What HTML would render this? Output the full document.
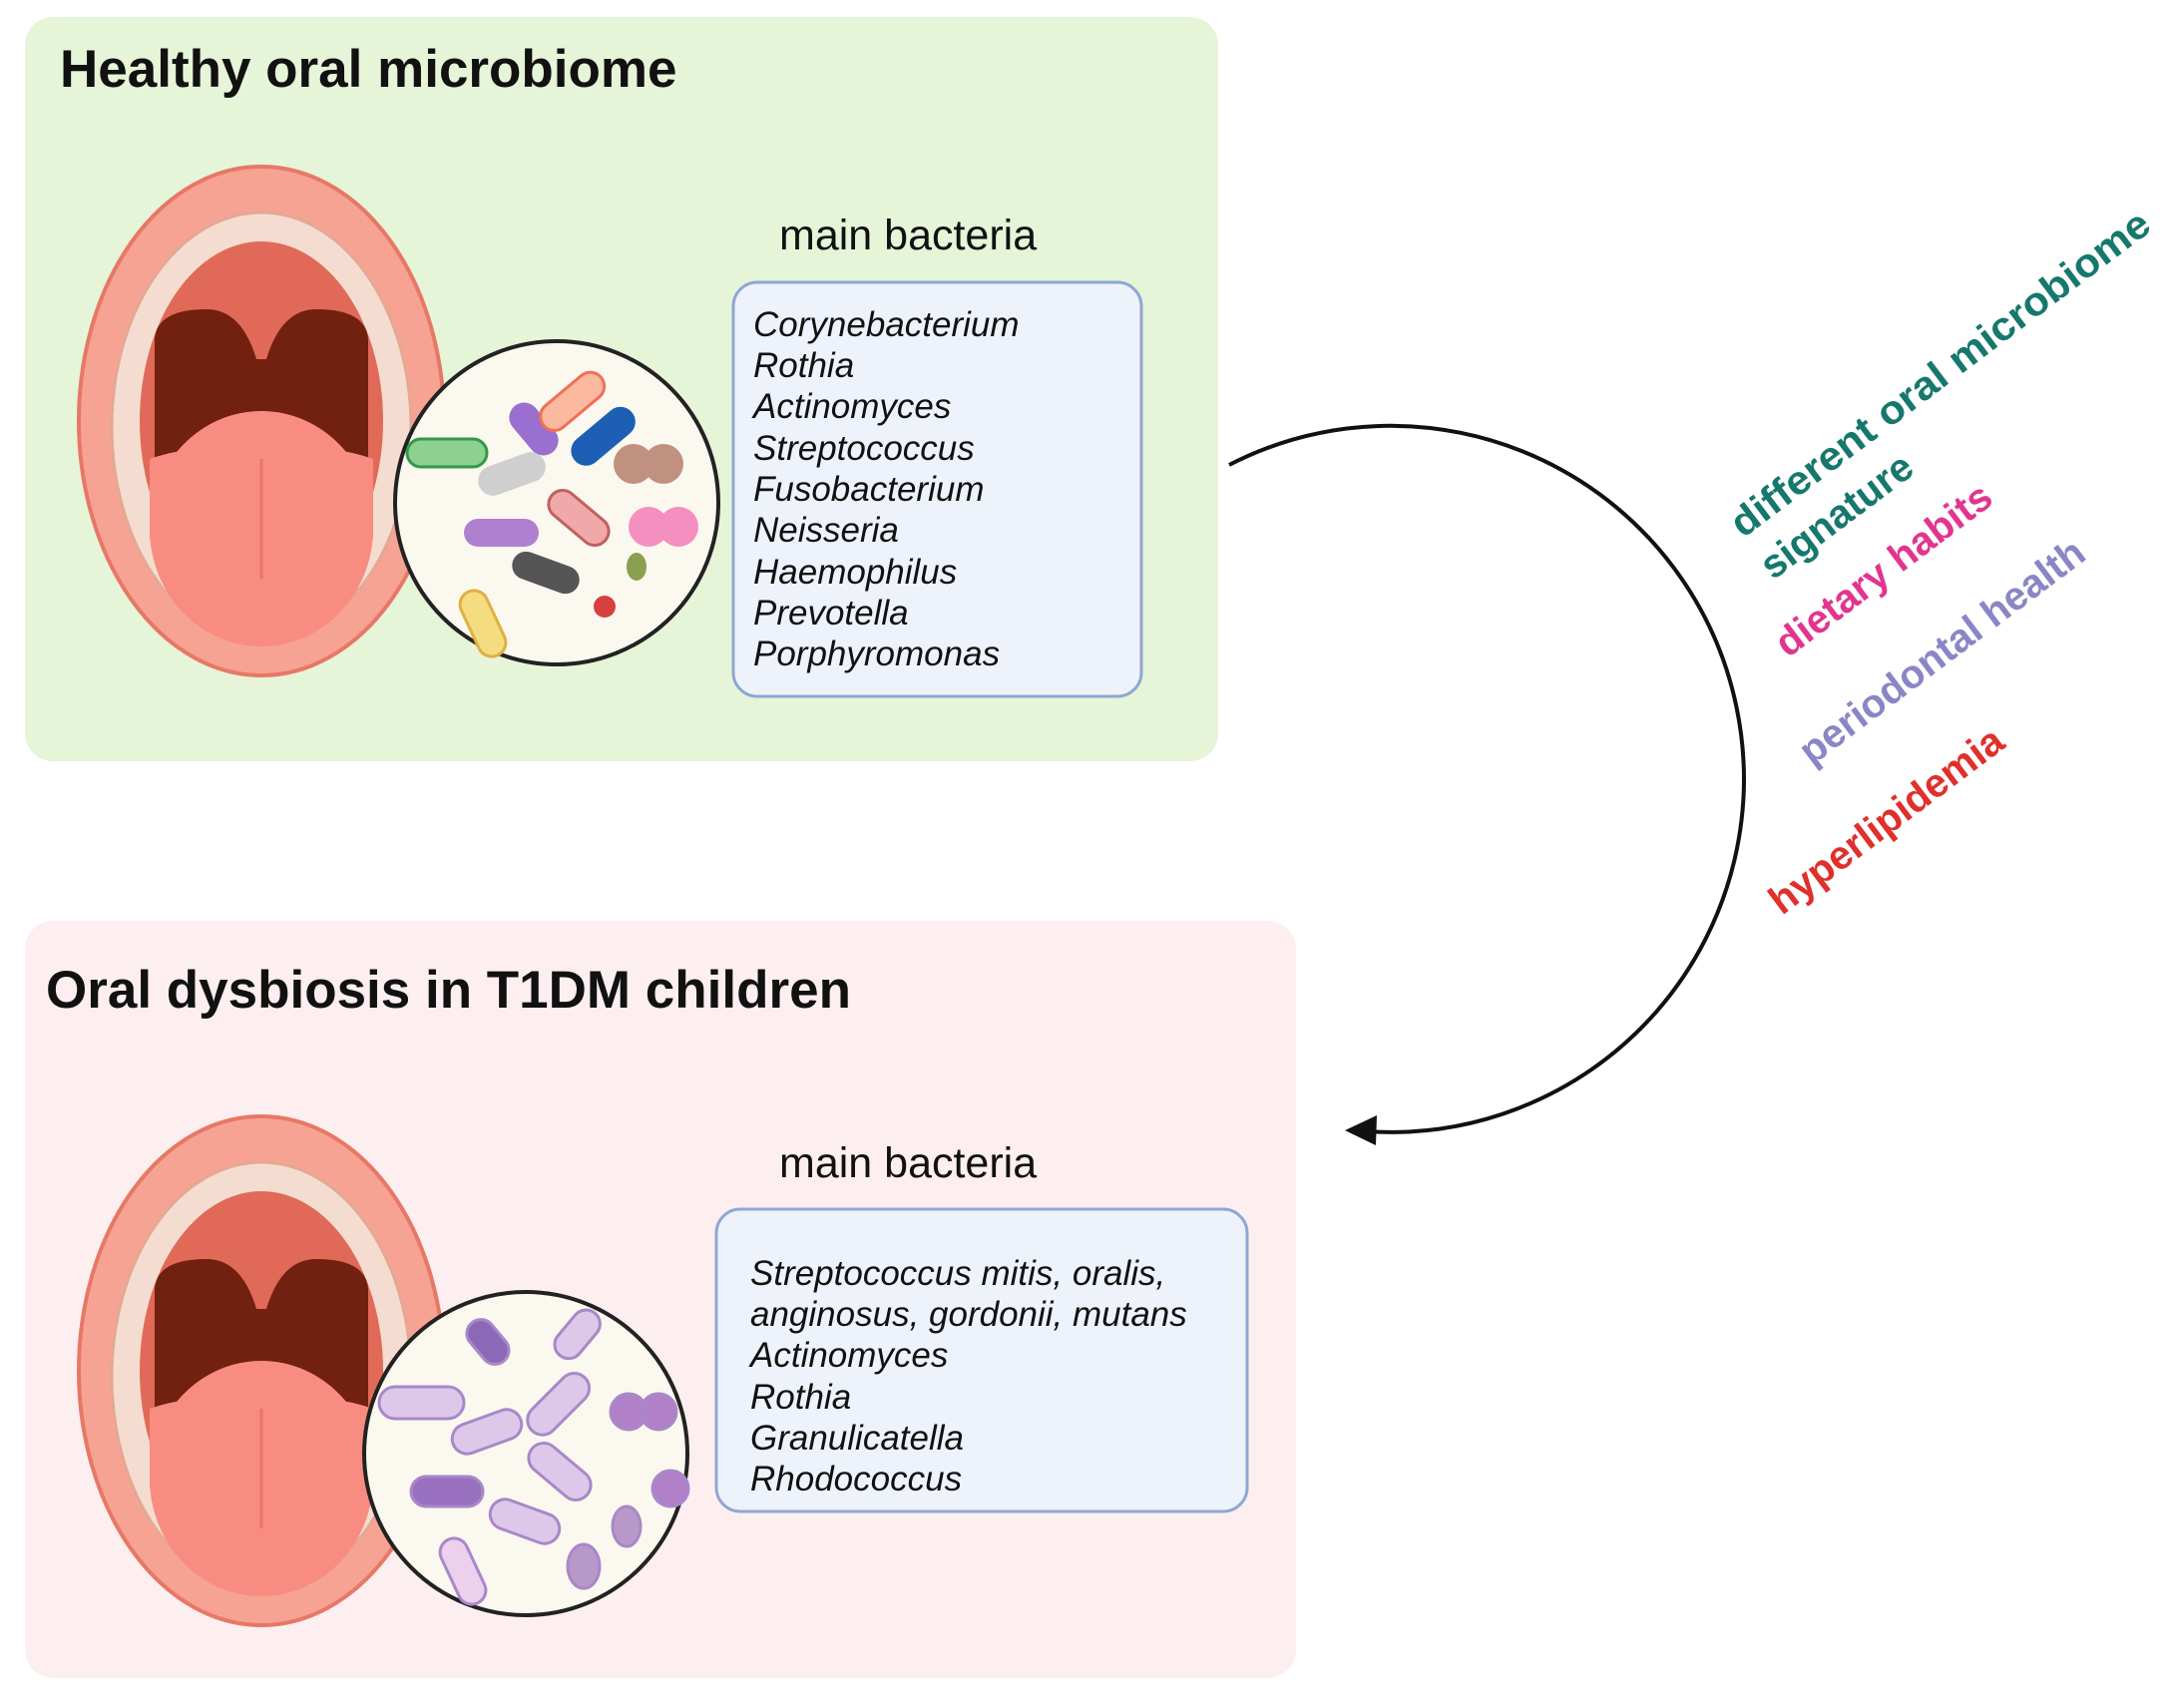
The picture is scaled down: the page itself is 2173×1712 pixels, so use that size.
<!DOCTYPE html>
<html><head><meta charset="utf-8"><style>
html,body{margin:0;padding:0;background:#fff;}
svg{display:block;}
</style></head><body>
<svg width="2173" height="1712" viewBox="0 0 2173 1712" xmlns="http://www.w3.org/2000/svg">
<defs>
<g id="mouth">
  <ellipse cx="185" cy="262" rx="183" ry="255" fill="#f7a394" stroke="#e77866" stroke-width="4"/>
  <ellipse cx="185" cy="268" rx="150" ry="215" fill="#f4ddd0" stroke="#e4a894" stroke-width="3"/>
  <ellipse cx="185" cy="262" rx="122" ry="180" fill="#e06a57"/>
  <path d="M78 180 Q80 150 130 150 Q165 150 180 200 L190 200 Q205 150 240 150 Q290 150 292 180 L292 300 L78 300 Z" fill="#72200f"/>
  <ellipse cx="185" cy="370" rx="112" ry="118" fill="#f98c80"/>
  <path d="M73 300 Q130 280 185 300 Q240 280 297 300 L297 380 L73 380 Z" fill="#f98c80"/>
  <line x1="185" y1="300" x2="185" y2="420" stroke="#e6746a" stroke-width="3"/>
</g>
</defs>

<rect x="25" y="17" width="1196" height="746" rx="28" fill="#e6f4d8"/>
<rect x="25" y="923" width="1274" height="759" rx="28" fill="#fdeff0"/>

<text x="60" y="87" font-family="Liberation Sans, sans-serif" font-weight="bold" font-size="53" fill="#111">Healthy oral microbiome</text>
<text x="46" y="1010" font-family="Liberation Sans, sans-serif" font-weight="bold" font-size="53" fill="#111">Oral dysbiosis in T1DM children</text>

<use href="#mouth" x="77" y="160"/>
<use href="#mouth" x="77" y="1112"/>

<circle cx="558" cy="504" r="162" fill="#fbf9ef" stroke="#222" stroke-width="4"/>
<g stroke-width="3">
  <rect x="520" y="400" width="30" height="60" rx="15" fill="#9b6fcf" transform="rotate(-40 535 430)"/>
  <rect x="560" y="365" width="28" height="75" rx="14" fill="#fbb9a0" stroke="#f07055" transform="rotate(50 574 402)"/>
  <rect x="590" y="400" width="30" height="75" rx="15" fill="#1d5fb5" transform="rotate(50 605 437)"/>
  <circle cx="635" cy="465" r="20" fill="#c09080"/><circle cx="665" cy="465" r="20" fill="#c09080"/>
  <rect x="408" y="440" width="80" height="28" rx="14" fill="#8ed08f" stroke="#2f9a4a"/>
  <rect x="478" y="460" width="70" height="30" rx="15" fill="#cfcfcf" transform="rotate(-20 513 475)"/>
  <rect x="545" y="505" width="70" height="28" rx="14" fill="#f0a8a8" stroke="#c06060" transform="rotate(40 580 519)"/>
  <circle cx="650" cy="528" r="20" fill="#f58fc0"/><circle cx="680" cy="528" r="20" fill="#f58fc0"/>
  <rect x="465" y="520" width="75" height="28" rx="14" fill="#b080d0"/>
  <rect x="512" y="560" width="70" height="28" rx="14" fill="#555" transform="rotate(20 547 574)"/>
  <rect x="470" y="590" width="28" height="70" rx="14" fill="#f5dc80" stroke="#e0b040" transform="rotate(-25 484 625)"/>
  <ellipse cx="638" cy="568" rx="10" ry="14" fill="#8aa050"/>
  <circle cx="606" cy="608" r="11" fill="#d84040"/>
</g>

<circle cx="527" cy="1457" r="162" fill="#fbf9ef" stroke="#222" stroke-width="4"/>
<g fill="#ddc8ea" stroke="#a888c8" stroke-width="3">
  <rect x="380" y="1390" width="85" height="32" rx="16"/>
  <rect x="475" y="1320" width="28" height="50" rx="14" fill="#8c68b8" transform="rotate(-40 489 1345)"/>
  <rect x="545" y="1370" width="30" height="75" rx="15" transform="rotate(45 560 1407)"/>
  <rect x="565" y="1310" width="28" height="55" rx="14" transform="rotate(40 579 1337)"/>
  <rect x="452" y="1420" width="72" height="30" rx="15" transform="rotate(-20 488 1435)"/>
  <rect x="525" y="1460" width="72" height="30" rx="15" transform="rotate(40 561 1475)"/>
  <circle cx="630" cy="1415" r="18" fill="#b080c8"/><circle cx="660" cy="1415" r="18" fill="#b080c8"/>
  <rect x="412" y="1480" width="72" height="30" rx="15" fill="#9a70c0"/>
  <rect x="490" y="1510" width="72" height="30" rx="15" transform="rotate(20 526 1525)"/>
  <rect x="450" y="1540" width="28" height="70" rx="14" fill="#ecd0ee" transform="rotate(-25 464 1575)"/>
  <ellipse cx="628" cy="1530" rx="14" ry="20" fill="#b898c8"/>
  <ellipse cx="585" cy="1570" rx="16" ry="22" fill="#b898c8"/>
  <circle cx="672" cy="1492" r="18" fill="#b080c8"/>
</g>

<text x="781" y="250" font-family="Liberation Sans, sans-serif" font-size="43" fill="#111">main bacteria</text>
<rect x="735" y="283" width="409" height="415" rx="24" fill="#eef3fb" stroke="#8ea7d4" stroke-width="3"/>
<g font-family="Liberation Sans, sans-serif" font-style="italic" font-size="35" fill="#111">
  <text x="755" y="337">Corynebacterium</text>
  <text x="755" y="378">Rothia</text>
  <text x="755" y="419">Actinomyces</text>
  <text x="755" y="461">Streptococcus</text>
  <text x="755" y="502">Fusobacterium</text>
  <text x="755" y="543">Neisseria</text>
  <text x="755" y="585">Haemophilus</text>
  <text x="755" y="626">Prevotella</text>
  <text x="755" y="667">Porphyromonas</text>
</g>

<text x="781" y="1180" font-family="Liberation Sans, sans-serif" font-size="43" fill="#111">main bacteria</text>
<rect x="718" y="1212" width="532" height="303" rx="24" fill="#eef3fb" stroke="#8ea7d4" stroke-width="3"/>
<g font-family="Liberation Sans, sans-serif" font-style="italic" font-size="35" fill="#111">
  <text x="752" y="1288">Streptococcus mitis, oralis,</text>
  <text x="752" y="1329">anginosus, gordonii, mutans</text>
  <text x="752" y="1370">Actinomyces</text>
  <text x="752" y="1412">Rothia</text>
  <text x="752" y="1453">Granulicatella</text>
  <text x="752" y="1494">Rhodococcus</text>
</g>

<path d="M1232 466 A354 354 0 1 1 1370 1134" fill="none" stroke="#111" stroke-width="4"/>
<polygon points="1348,1133 1380,1118 1379,1148" fill="#111"/>

<g font-family="Liberation Sans, sans-serif" font-weight="bold" font-size="40">
  <text transform="translate(1747,540) rotate(-37)" fill="#16786c" textLength="515" lengthAdjust="spacingAndGlyphs">different oral microbiome</text>
  <text transform="translate(1777,582) rotate(-37)" fill="#16786c">signature</text>
  <text transform="translate(1792,660) rotate(-37)" fill="#e2358f">dietary habits</text>
  <text transform="translate(1816,768) rotate(-37)" fill="#8a86c6">periodontal health</text>
  <text transform="translate(1786,918) rotate(-37)" fill="#e0302c">hyperlipidemia</text>
</g>
</svg>
</body></html>
